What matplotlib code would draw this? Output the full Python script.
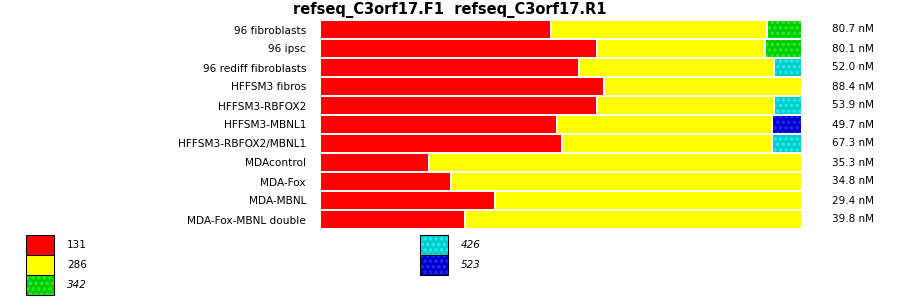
import matplotlib
matplotlib.use('Agg')
import matplotlib.pyplot as plt
from matplotlib.patches import Patch
import numpy as np

# samples, top to bottom
samples = ['96 fibroblasts', '96 ipsc', '96 rediff fibroblasts', 'HFFSM3 fibros',
           'HFFSM3-RBFOX2', 'HFFSM3-MBNL1', 'HFFSM3-RBFOX2/MBNL1', 'MDAcontrol',
           'MDA-Fox', 'MDA-MBNL', 'MDA-Fox-MBNL double']
concentrations = ['80.7 nM', '80.1 nM', '52.0 nM', '88.4 nM', '53.9 nM', '49.7 nM',
                  '67.3 nM', '35.3 nM', '34.8 nM', '29.4 nM', '39.8 nM']

# product sizes (percent of each bar)
sizes = ['131', '286', '342', '426', '523']
p131 = [47.9, 57.5, 53.8, 59.0, 57.5, 49.2, 50.2, 22.7, 27.1, 36.3, 30.0]
p286 = [44.8, 34.8, 40.4, 41.0, 36.7, 44.6, 43.5, 77.3, 72.9, 63.7, 70.0]
p342 = [7.3, 7.7, 0, 0, 0, 0, 0, 0, 0, 0, 0]
p426 = [0, 0, 5.8, 0, 5.8, 0, 6.3, 0, 0, 0, 0]
p523 = [0, 0, 0, 0, 0, 6.2, 0, 0, 0, 0, 0]

series = [p131, p286, p342, p426, p523]
base_colors = ['#ff0000', '#ffff00', '#00cc00', '#00cccc', '#0000cc']
dot_colors = [None, None, '#2aee2a', '#2aeeee', '#2a2aee']

plt.rcParams['hatch.linewidth'] = 1.7

W, H = 900, 299
fig = plt.figure(figsize=(W / 100, H / 100), dpi=100)
ax = fig.add_axes([320 / W, (H - 229) / H, 482 / W, 209 / H])

y = np.arange(len(samples))
left = np.zeros(len(samples))
for vals, col, dot in zip(series, base_colors, dot_colors):
    vals = np.array(vals)
    if dot is None:
        ax.barh(y, vals, left=left, height=1.0, color=col, edgecolor='white', linewidth=1.4)
    else:
        ax.barh(y, vals, left=left, height=1.0, color=col, edgecolor=dot, linewidth=0, hatch='...')
        ax.barh(y, vals, left=left, height=1.0, facecolor='none', edgecolor='white', linewidth=1.4)
    left += vals

ax.set_xlim(0, 100)
ax.set_ylim(len(samples) - 0.5, -0.5)
ax.set_yticks(y, samples, fontsize=7.6)
ax.tick_params(axis='y', length=0, pad=10)
ax.set_xticks([])
for s in ax.spines.values():
    s.set_visible(False)

for i, c in enumerate(concentrations):
    ax.text(1.106, i, c, transform=ax.get_yaxis_transform(), ha='center', va='center', fontsize=7.5)

fig.text(0.5, 1 - 14 / H, 'refseq_C3orf17.F1  refseq_C3orf17.R1', ha='center', va='baseline',
         fontsize=10.5, fontweight='bold')

# legend handles
handles = []
for col, dot in zip(base_colors, dot_colors):
    if dot is None:
        handles.append(Patch(facecolor=col, edgecolor='black', linewidth=0.75))
    else:
        handles.append((Patch(facecolor=col, edgecolor=dot, linewidth=0, hatch='...'),
                        Patch(facecolor='none', edgecolor='black', linewidth=0.75)))

legend_kw = dict(loc='upper left', frameon=False, borderpad=0, borderaxespad=0,
                 handlelength=2.69, handleheight=2.58, labelspacing=0, handletextpad=1.25,
                 fontsize=7.5)
leg1 = fig.legend(handles[:3], sizes[:3], bbox_to_anchor=(26 / W, 1 - 235 / H), **legend_kw)
leg2 = fig.legend(handles[3:], sizes[3:], bbox_to_anchor=(420 / W, 1 - 235 / H), **legend_kw)
leg1.get_texts()[2].set_style('italic')
for t in leg2.get_texts():
    t.set_style('italic')

fig.savefig('out.png', dpi=100)
